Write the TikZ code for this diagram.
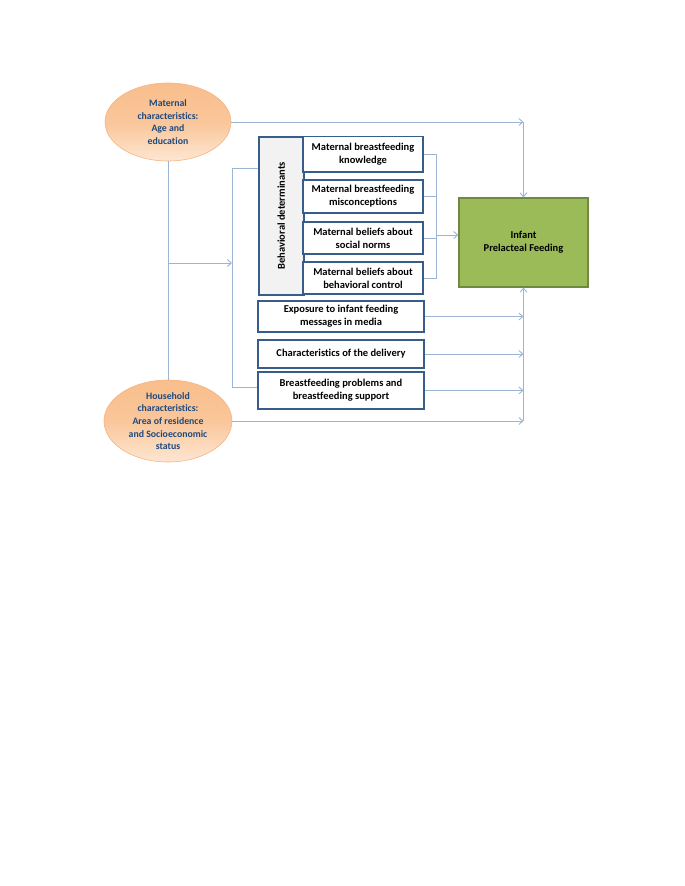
\documentclass[tikz,border=0pt]{standalone}
\usepackage{fontspec}
\setmainfont{Carlito}[Ligatures=NoCommon]
\usetikzlibrary{shapes.geometric,arrows.meta}
\definecolor{lnc}{HTML}{9CB5D3}
\definecolor{bxc}{HTML}{385D8A}
\definecolor{grf}{HTML}{9BBB59}
\definecolor{grd}{HTML}{71893F}
\definecolor{elt}{HTML}{F9BE8C}
\definecolor{elb}{HTML}{FDE6D2}
\definecolor{eld}{HTML}{F5B482}
\definecolor{ett}{HTML}{1F497D}
\definecolor{gyf}{HTML}{F2F2F2}
\tikzset{
  txt/.style={font=\fontsize{10.5}{13}\selectfont\bfseries, align=center},
  etxt/.style={font=\fontsize{9.8}{12.6}\selectfont\bfseries, align=center},
  ell/.style={ellipse, draw=eld, line width=0.6pt, top color=elt, bottom color=elb, middle color=elt!80!elb, inner sep=0pt, etxt, text=ett},
  bx/.style={rectangle, draw=bxc, line width=1.6pt, fill=white, inner sep=0pt, txt},
  ln/.style={draw=lnc, line width=0.9pt},
  arr/.style={ln, -{Straight Barb[length=4pt,width=7pt]}}
}
\begin{document}
\begin{tikzpicture}[x=1pt,y=-1pt]
\useasboundingbox (0,0) rectangle (685,886);
% ellipses
\node[ell, minimum width=126, minimum height=78] (mat) at (168,122) {Maternal\\characteristics:\\Age and\\education};
\node[ell, minimum width=128, minimum height=82] (hh) at (168,421) {Household\\characteristics:\\Area of residence\\and Socioeconomic\\status};
% behavioral determinants column
\node[bx, fill=gyf, minimum width=45, minimum height=158, anchor=north west] (beh) at (258,136) {};
\node[txt, rotate=90] (behlt) at (beh.center) {Behavioral determinants};
\node[bx, minimum width=120, minimum height=35.5] (k1) at (363,154.25) {Maternal breastfeeding\\knowledge};
\node[bx, minimum width=120, minimum height=33] (k2) at (363,196.5) {Maternal breastfeeding\\misconceptions};
\node[bx, minimum width=120, minimum height=32] (k3) at (363,238) {Maternal beliefs about\\social norms};
\node[bx, minimum width=120, minimum height=32] (k4) at (363,278) {Maternal beliefs about\\behavioral control};
% lower boxes
\node[bx, minimum width=166, minimum height=31] (exp) at (341,316.5) {Exposure to infant feeding\\messages in media};
\node[bx, minimum width=166, minimum height=28] (del) at (341,354) {Characteristics of the delivery};
\node[bx, minimum width=166, minimum height=37] (prob) at (341,390.5) {Breastfeeding problems and\\breastfeeding support};
% outcome
\node[rectangle, draw=grd, line width=1.2pt, fill=grf, minimum width=129, minimum height=89, txt] (gr) at (523.5,242.5) {Infant\\Prelacteal Feeding};
% connectors top and bottom
\coordinate (tc) at (gr.north |- mat.east);
\draw[arr] (mat.east) -- (tc);
\draw[arr] (tc) -- (gr.north);
\coordinate (bc) at (gr.south |- hh.east);
\draw[arr] (hh.east) -- (bc);
\draw[arr] (bc) -- (gr.south);
% side arrows
\draw[arr] (exp.east) -- (exp.east -| gr.south);
\draw[arr] (del.east) -- (del.east -| gr.south);
\draw[arr] (prob.east) -- (prob.east -| gr.south);
% center line and left bracket
\draw[ln] (mat.south) -- (hh.north);
\coordinate (lbt) at (232,168);
\coordinate (lbb) at (232,387);
\coordinate (lbm) at (232,263);
\coordinate (cm) at (mat.south |- lbm);
\draw[ln] (beh.west |- lbt) -- (lbt) -- (lbb) -- (prob.west |- lbb);
\draw[arr] (cm) -- (lbm);
% right bracket
\draw[ln] (k1.east) -- ++(13,0) coordinate (r1);
\draw[ln] (k4.east) -- ++(13,0) coordinate (r4);
\draw[ln] (r1) -- (r4);
\draw[ln] (k2.east) -- (k2.east -| r1);
\draw[ln] (k3.east) -- (k3.east -| r1);
\coordinate (rm) at (436,235);
\draw[arr] (rm) -- (rm -| gr.west);
\end{tikzpicture}
\end{document}
